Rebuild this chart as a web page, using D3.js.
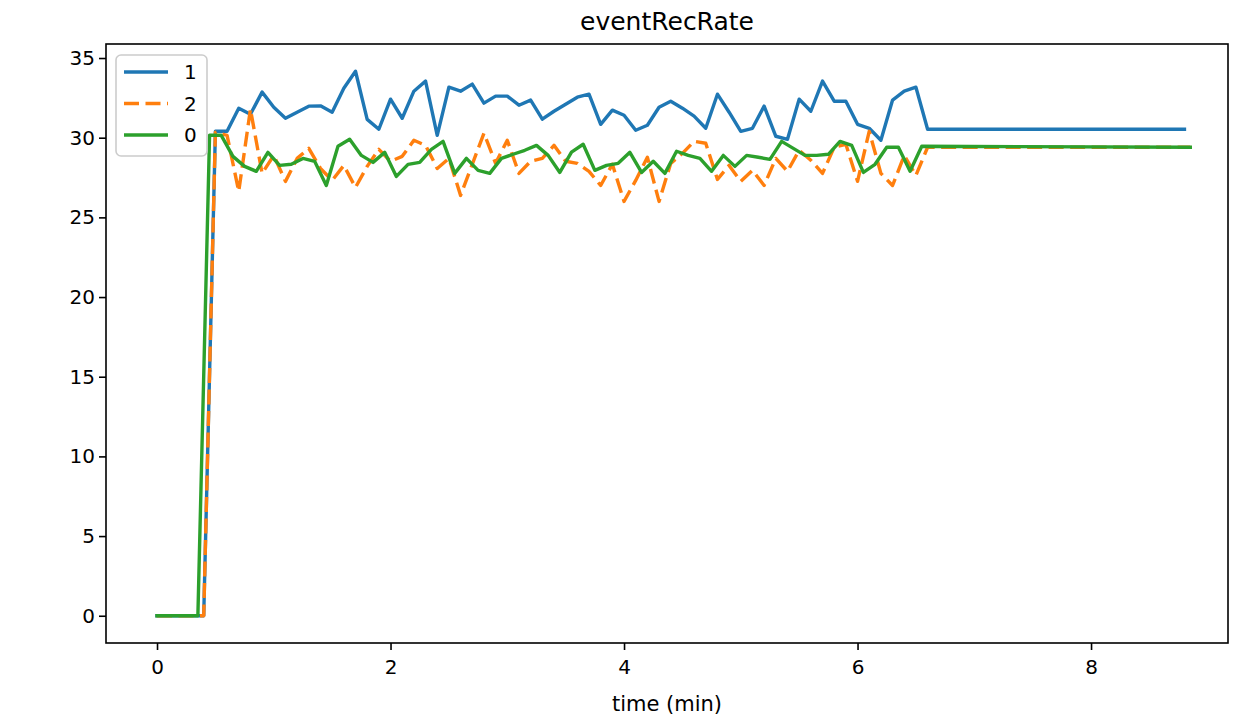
<!DOCTYPE html>
<html>
<head>
<meta charset="utf-8">
<script src="https://cdn.jsdelivr.net/npm/d3@7/dist/d3.min.js"></script>
<style>
  html, body { margin: 0; padding: 0; background: #fff; }
  svg { display: block; font-family: "DejaVu Sans", sans-serif; }
</style>
</head>
<body>
<svg id="chart" width="1243" height="720"></svg>
<script>
// ---- data ----
const title = "eventRecRate";
const xLabel = "time (min)";
const xTicks = [0, 2, 4, 6, 8];
const yTicks = [0, 5, 10, 15, 20, 25, 30, 35];
const seriesNames = ["1", "2", "0"];

const time1 = [0, 0.4, 0.5, 0.6, 0.7, 0.8, 0.9, 1.0, 1.1, 1.2, 1.3, 1.4, 1.5, 1.6, 1.7, 1.8, 1.9, 2.0,
  2.1, 2.2, 2.3, 2.4, 2.5, 2.6, 2.7, 2.8, 2.9, 3.0, 3.1, 3.2, 3.3, 3.4, 3.5, 3.6, 3.7, 3.8, 3.9, 4.0,
  4.1, 4.2, 4.3, 4.4, 4.5, 4.6, 4.7, 4.8, 4.9, 5.0, 5.1, 5.2, 5.3, 5.4, 5.5, 5.6, 5.7, 5.8, 5.9, 6.0,
  6.1, 6.2, 6.3, 6.4, 6.5, 6.6, 8.8];
const rate1 = [0, 0, 30.4, 30.4, 31.85, 31.47, 32.86, 31.91, 31.22, 31.6, 31.98, 32.0, 31.6, 33.1, 34.17,
  31.15, 30.53, 32.42, 31.22, 32.92, 33.55, 30.15, 33.17, 32.92, 33.36, 32.17, 32.61, 32.61, 32.04,
  32.36, 31.16, 31.66, 32.1, 32.54, 32.73, 30.84, 31.73, 31.41, 30.47, 30.78, 31.91, 32.29, 31.85,
  31.35, 30.59, 32.73, 31.6, 30.4, 30.59, 31.98, 30.09, 29.9, 32.42, 31.66, 33.55, 32.29, 32.29, 30.84,
  30.59, 29.84, 32.36, 32.92, 33.17, 30.53, 30.53];

const time2 = [0, 0.4, 0.5, 0.6, 0.7, 0.8, 0.9, 1.0, 1.1, 1.2, 1.3, 1.4, 1.5, 1.6, 1.7, 1.8, 1.9, 2.0,
  2.1, 2.2, 2.3, 2.4, 2.5, 2.6, 2.7, 2.8, 2.9, 3.0, 3.1, 3.2, 3.3, 3.4, 3.5, 3.6, 3.7, 3.8, 3.9, 4.0,
  4.1, 4.2, 4.3, 4.4, 4.5, 4.6, 4.7, 4.8, 4.9, 5.0, 5.1, 5.2, 5.3, 5.4, 5.5, 5.6, 5.7, 5.8, 5.9, 6.0,
  6.1, 6.2, 6.3, 6.4, 6.5, 6.6, 8.85];
const rate2 = [0, 0, 30.34, 30.15, 26.63, 31.79, 27.76, 28.89, 27.26, 28.7, 29.33, 28.07, 27.32, 28.26,
  26.88, 28.2, 29.27, 28.52, 28.83, 29.84, 29.52, 28.07, 28.7, 26.38, 28.33, 30.28, 28.39, 29.84, 27.76,
  28.52, 28.7, 29.52, 28.52, 28.39, 27.89, 27.0, 28.33, 26.0, 27.32, 28.77, 26.0, 28.39, 29.02, 29.77,
  29.65, 27.38, 28.26, 27.26, 27.95, 27.0, 28.7, 27.89, 29.21, 28.58, 27.76, 29.4, 29.59, 27.26, 30.4,
  27.76, 27.0, 28.89, 27.63, 29.4, 29.4];

const time0 = [0, 0.35, 0.45, 0.55, 0.65, 0.75, 0.85, 0.95, 1.05, 1.15, 1.25, 1.35, 1.45, 1.55, 1.65,
  1.75, 1.85, 1.95, 2.05, 2.15, 2.25, 2.35, 2.45, 2.55, 2.65, 2.75, 2.85, 2.95, 3.05, 3.15, 3.25, 3.35,
  3.45, 3.55, 3.65, 3.75, 3.85, 3.95, 4.05, 4.15, 4.25, 4.35, 4.45, 4.55, 4.65, 4.75, 4.85, 4.95, 5.05,
  5.15, 5.25, 5.35, 5.45, 5.55, 5.65, 5.75, 5.85, 5.95, 6.05, 6.15, 6.25, 6.35, 6.45, 6.55, 8.85];
const rate0 = [0, 0, 30.15, 30.15, 28.83, 28.2, 27.89, 29.08, 28.26, 28.33, 28.7, 28.52, 27.0, 29.46,
  29.9, 28.89, 28.45, 29.08, 27.57, 28.33, 28.45, 29.27, 29.77, 27.76, 28.7, 27.95, 27.76, 28.7, 28.96,
  29.21, 29.52, 28.89, 27.82, 29.1, 29.59, 27.95, 28.26, 28.39, 29.08, 27.82, 28.52, 27.76, 29.15,
  28.89, 28.7, 27.89, 28.89, 28.2, 28.89, 28.77, 28.64, 29.77, 29.33, 28.89, 28.89, 28.96, 29.77,
  29.52, 27.82, 28.33, 29.4, 29.4, 27.89, 29.46, 29.4];

// ---- chart ----
const svg = d3.select("#chart");
const L = 106, R = 1228, T = 44, B = 643;
const x = d3.scaleLinear().domain([-0.437, 9.173]).range([L, R]);
const y = d3.scaleLinear().domain([-1.71, 35.88]).range([B, T]);

const colors = { "1": "#1f77b4", "2": "#ff7f0e", "0": "#2ca02c" };
const dashes = { "1": null, "2": "15,6.5", "0": null };
const series = [
  { name: "1", t: time1, v: rate1 },
  { name: "2", t: time2, v: rate2 },
  { name: "0", t: time0, v: rate0 }
];

svg.append("clipPath").attr("id", "clip").append("rect")
  .attr("x", L).attr("y", T).attr("width", R - L).attr("height", B - T);

const line = d3.line().x(d => x(d[0])).y(d => y(d[1]));
const g = svg.append("g").attr("clip-path", "url(#clip)");
series.forEach(s => {
  const pts = s.t.map((t, i) => [t, s.v[i]]);
  g.append("path").datum(pts)
    .attr("d", line)
    .attr("fill", "none")
    .attr("stroke", colors[s.name])
    .attr("stroke-width", 3.4)
    .attr("stroke-linejoin", "round")
    .attr("stroke-linecap", s.name === "2" ? "butt" : "square")
    .attr("stroke-dasharray", dashes[s.name]);
});

// axes
const fs = 20;
const xAxis = d3.axisBottom(x).tickValues(xTicks).tickSize(7).tickPadding(10).tickFormat(d3.format("d"));
const yAxis = d3.axisLeft(y).tickValues(yTicks).tickSize(7).tickPadding(4).tickFormat(d3.format("d"));
const gx = svg.append("g").attr("transform", `translate(0,${B})`).call(xAxis);
const gy = svg.append("g").attr("transform", `translate(${L},0)`).call(yAxis);
[gx, gy].forEach(ax => {
  ax.select(".domain").remove();
  ax.selectAll("line").attr("stroke", "#000").attr("stroke-width", 1.6);
  ax.selectAll("text").attr("font-size", fs).attr("fill", "#000").attr("font-family", "DejaVu Sans");
});

svg.append("rect").attr("x", L).attr("y", T).attr("width", R - L).attr("height", B - T)
  .attr("fill", "none").attr("stroke", "#000").attr("stroke-width", 1.6);

svg.append("text").attr("x", (L + R) / 2).attr("y", 30).attr("text-anchor", "middle")
  .attr("font-size", 25).text(title);
svg.append("text").attr("x", (L + R) / 2).attr("y", 711).attr("text-anchor", "middle")
  .attr("font-size", 21).text(xLabel);

// legend
const lg = svg.append("g");
const lx = 116, ly = 55, lw = 91, lh = 101;
lg.append("rect").attr("x", lx).attr("y", ly).attr("width", lw).attr("height", lh)
  .attr("rx", 5).attr("fill", "rgba(255,255,255,0.8)").attr("stroke", "#cccccc").attr("stroke-width", 1.6);
series.forEach((s, i) => {
  const cy = 72 + i * 31.5;
  lg.append("line").attr("x1", 124).attr("x2", 168).attr("y1", cy).attr("y2", cy)
    .attr("stroke", colors[s.name]).attr("stroke-width", 3.4)
    .attr("stroke-dasharray", dashes[s.name]);
  lg.append("text").attr("x", 184).attr("y", cy).attr("dy", "0.35em")
    .attr("font-size", fs).text(s.name);
});
</script>
</body>
</html>
